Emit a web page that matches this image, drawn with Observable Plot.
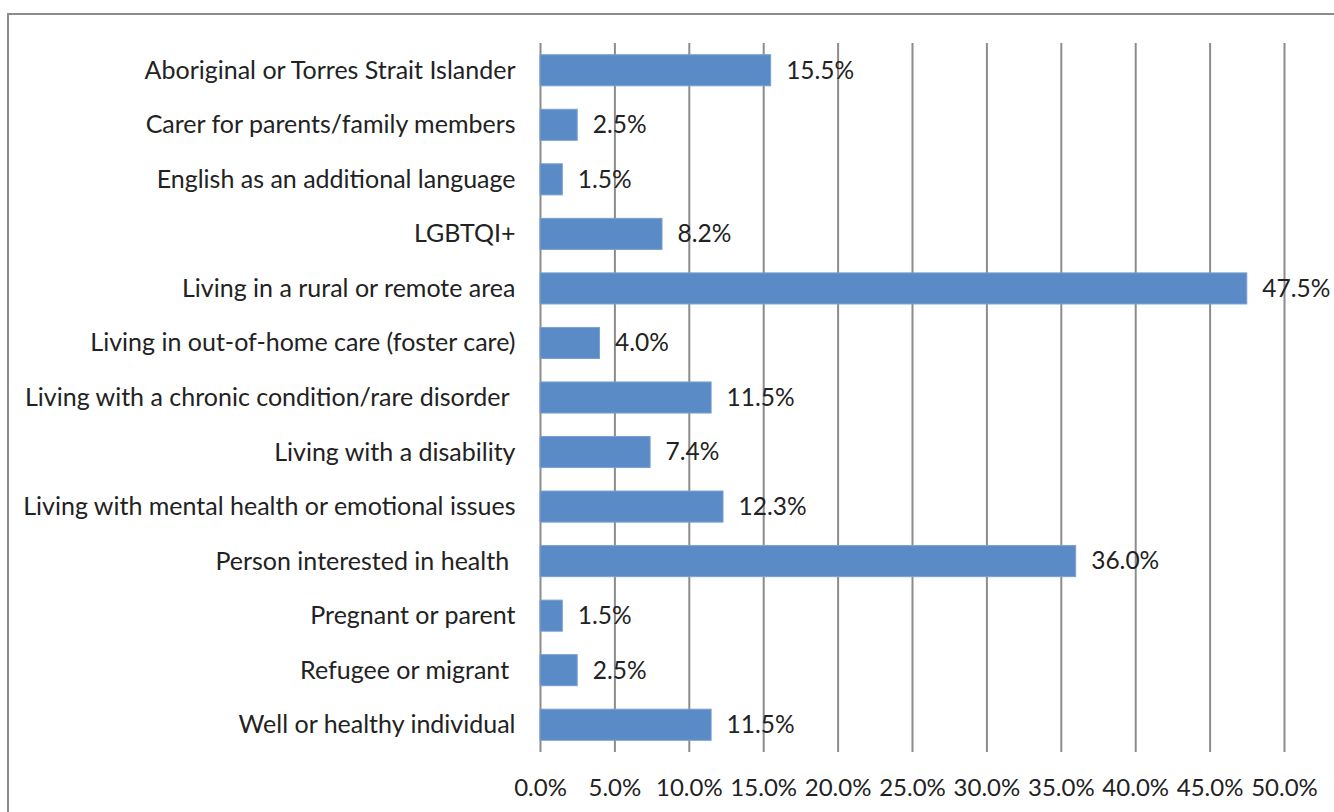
<!DOCTYPE html>
<html>
<head>
<meta charset="utf-8">
<script src="https://cdn.jsdelivr.net/npm/d3@7"></script>
<script src="https://cdn.jsdelivr.net/npm/@observablehq/plot@0.6"></script>
<style>
  html, body { margin: 0; padding: 0; background: #fff; }
  #wrap { position: relative; width: 1334px; height: 812px; overflow: hidden; }
  #frame { position: absolute; left: 7px; top: 13px; width: 1400px; height: 900px; border: 2px solid #8c8c8c; box-sizing: border-box; pointer-events: none; }
  #chart { position: absolute; left: 0; top: 0; }
  #chart svg text { white-space: pre; }
</style>
</head>
<body>
<div id="wrap">
  <div id="chart"></div>
  <div id="frame"></div>
</div>
<script>
const categories = [
  "Aboriginal or Torres Strait Islander",
  "Carer for parents/family members",
  "English as an additional language",
  "LGBTQI+",
  "Living in a rural or remote area",
  "Living in out-of-home care (foster care)",
  "Living with a chronic condition/rare disorder ",
  "Living with a disability",
  "Living with mental health or emotional issues",
  "Person interested in health ",
  "Pregnant or parent",
  "Refugee or migrant ",
  "Well or healthy individual"
];
const values = [15.5, 2.5, 1.5, 8.2, 47.5, 4.0, 11.5, 7.4, 12.3, 36.0, 1.5, 2.5, 11.5];
const xTicks = [0, 5, 10, 15, 20, 25, 30, 35, 40, 45, 50];

const data = categories.map((c, i) => ({category: c, value: values[i]}));
const fmt = d => d.toFixed(1) + "%";

const chart = Plot.plot({
  width: 1334,
  height: 812,
  marginLeft: 540,
  marginRight: 50,
  marginTop: 43,
  marginBottom: 60,
  style: {fontFamily: "Lato, 'Open Sans', sans-serif", fontSize: "24px", color: "#222", background: "transparent"},
  x: {domain: [0, 50], ticks: xTicks, tickFormat: fmt, tickSize: 0, tickPadding: 26, label: null},
  y: {domain: categories, paddingInner: 0.43, paddingOuter: 0.215, round: false, tickSize: 0, tickPadding: 25, label: null},
  marks: [
    Plot.gridX(xTicks, {stroke: "#8c8c8c", strokeOpacity: 1, strokeWidth: 2}),
    Plot.axisY({tickSize: 0, tickPadding: 25, fontSize: 25}),
    Plot.barX(data, {y: "category", x: "value", fill: "#5b8bc6", stroke: "#7aa0d0", strokeWidth: 1}),
    Plot.text(data, {y: "category", x: "value", text: d => fmt(d.value), textAnchor: "start", dx: 15, fill: "#222", fontSize: 24.5})
  ]
});
document.getElementById("chart").appendChild(chart);
</script>
</body>
</html>
